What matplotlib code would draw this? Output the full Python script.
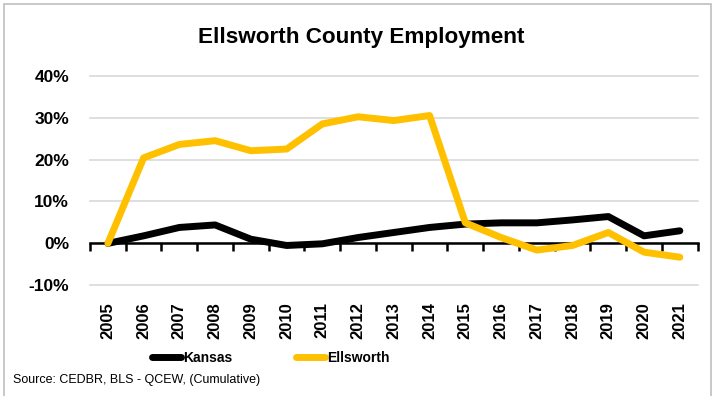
import matplotlib.pyplot as plt
import numpy as np
from matplotlib.patches import Rectangle

years = [str(y) for y in range(2005, 2022)]
kansas = [0.0, 1.8, 3.8, 4.4, 1.0, -0.5, -0.1, 1.4, 2.6, 3.8, 4.6, 4.9, 4.9, 5.6, 6.4, 1.8, 3.0]
ellsworth = [0.0, 20.4, 23.6, 24.5, 22.1, 22.5, 28.5, 30.2, 29.3, 30.5, 4.9, 1.4, -1.6, -0.5, 2.6, -2.1, -3.3]
y_ticks = [-10, 0, 10, 20, 30, 40]

plt.rcParams["font.family"] = ["Liberation Sans", "DejaVu Sans"]

W, H = 713, 396
fig = plt.figure(figsize=(W / 100, H / 100), dpi=100)
ax = fig.add_axes([90 / W, 1 - 285.3 / H, (697.7 - 90) / W, (285.3 - 75.7) / H])

x = np.arange(len(years))
ax.plot(x, np.array(kansas) / 100, color="black", lw=5, solid_capstyle="round",
        solid_joinstyle="round", label="Kansas", zorder=3)
ax.plot(x, np.array(ellsworth) / 100, color="#FFC000", lw=5, solid_capstyle="round",
        solid_joinstyle="round", label="Ellsworth", zorder=4)

ax.set_xlim(-0.5, len(years) - 0.5)
ax.set_ylim(-0.1, 0.4)
ax.set_yticks([v / 100 for v in y_ticks])
ax.set_yticklabels([f"{v}%" for v in y_ticks], fontsize=12.5, fontweight="bold")
ax.tick_params(axis="y", length=0, pad=15)
ax.grid(axis="y", color="#d9d9d9", lw=1.2)
ax.set_axisbelow(True)
for gl in ax.yaxis.get_gridlines():
    gl.set_clip_on(False)

for s in ["top", "right", "left"]:
    ax.spines[s].set_visible(False)
ax.spines["bottom"].set_position(("data", 0))
ax.spines["bottom"].set_linewidth(1.8)
ax.spines["bottom"].set_zorder(2)
ax.set_xticks(np.arange(-0.5, len(years), 1.0))
ax.set_xticklabels([])
ax.tick_params(axis="x", direction="out", length=5.5, width=1.8)

secax = ax.secondary_xaxis(0.0)
secax.set_xticks(x)
secax.set_xticklabels(years, rotation=90, fontsize=12, fontweight="bold")
secax.tick_params(length=0, pad=12)
secax.spines["bottom"].set_visible(False)

fig.text(361.5 / W, 1 - 38 / H, "Ellsworth County Employment", ha="center", va="center",
         fontsize=16.2, fontweight="bold")

leg = fig.legend(loc="center", bbox_to_anchor=(271 / W, 1 - 358 / H), ncol=2, frameon=False,
                 prop={"size": 10, "weight": "bold"},
                 handlelength=2.1, handletextpad=0.15, columnspacing=4.6)
for ln in leg.get_lines():
    ln.set_solid_capstyle("round")
    ln.set_linewidth(5)

fig.text(13 / W, 1 - 380 / H, "Source: CEDBR, BLS - QCEW, (Cumulative)", ha="left", va="center",
         fontsize=9)

fig.add_artist(Rectangle((4 / W, -0.05), (711 - 4) / W, 1.05 - 4 / H, transform=fig.transFigure,
                         fill=False, edgecolor="#bfbfbf", lw=1.2, clip_on=False))

fig.savefig("out.png", dpi=100)
